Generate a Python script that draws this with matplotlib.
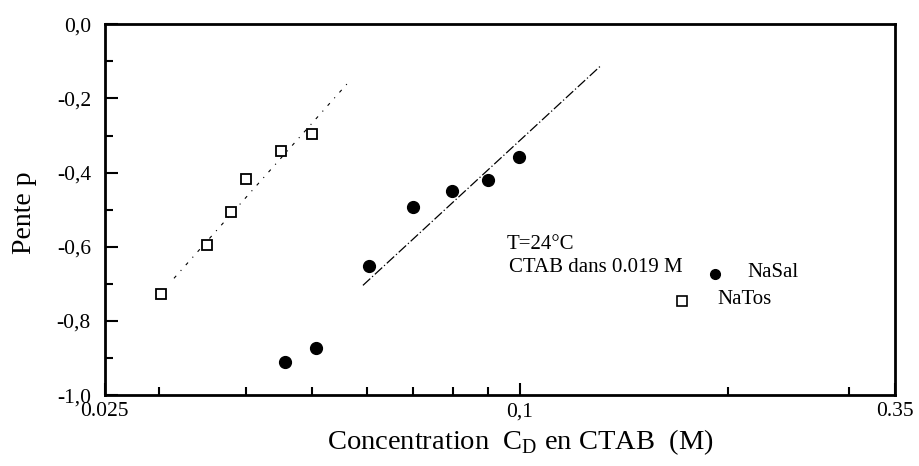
import matplotlib.pyplot as plt
import numpy as np

plt.rcParams['font.family'] = ['Liberation Serif', 'DejaVu Serif']
plt.rcParams['mathtext.fontset'] = 'custom'
plt.rcParams['mathtext.rm'] = 'Liberation Serif'

# NaSal (filled circles)
nasal_x = [0.0456, 0.0506, 0.0604, 0.070, 0.0798, 0.090, 0.0998]
nasal_y = [-0.911, -0.874, -0.653, -0.492, -0.449, -0.419, -0.357]

# NaTos (open squares)
natos_x = [0.0302, 0.0352, 0.0381, 0.040, 0.045, 0.050]
natos_y = [-0.728, -0.595, -0.505, -0.417, -0.341, -0.296]

# fitted lines, end points
fit_nasal_x = [0.0592, 0.1308]
fit_nasal_y = [-0.704, -0.113]
fit_natos_x = [0.0315, 0.0565]
fit_natos_y = [-0.685, -0.155]

xticks = [0.025, 0.1, 0.35]
xticklabels = ['0.025', '0,1', '0.35']
yticks = [-1.0, -0.8, -0.6, -0.4, -0.2, 0.0]
yticklabels = ['-1,0', '-0,8', '-0,6', '-0,4', '-0,2', '0,0']

fig = plt.figure(figsize=(9.19, 4.66), dpi=100)
ax = fig.add_axes([0.114, 0.152, 0.860, 0.796])

ax.plot(fit_natos_x, fit_natos_y, color='black', lw=0.8, linestyle=(0, (3, 6, 1, 6)))
ax.plot(fit_nasal_x, fit_nasal_y, color='black', lw=0.9, linestyle=(0, (8, 2, 1, 2)))

ax.plot(natos_x, natos_y, 's', ms=7.5, mfc='white', mec='black', mew=1.3, ls='none')
ax.plot(nasal_x, nasal_y, 'o', ms=8.5, mfc='black', mec='black', ls='none')

ax.set_xscale('log')
ax.set_xlim(0.025, 0.35)
ax.set_ylim(-1.0, 0.0)
ax.set_xticks(xticks)
ax.set_xticklabels(xticklabels)
ax.set_xticks([0.03, 0.04, 0.05, 0.06, 0.07, 0.08, 0.09, 0.2, 0.3], minor=True)
ax.xaxis.set_minor_formatter(plt.NullFormatter())
ax.set_yticks(yticks)
ax.set_yticklabels(yticklabels)
ax.set_yticks(np.arange(-0.9, 0.0, 0.2), minor=True)

ax.tick_params(which='both', direction='in', labelsize=15.5, width=1.5)
ax.tick_params(axis='y', which='major', length=9, pad=10)
ax.tick_params(axis='x', which='major', length=9, pad=5)
ax.tick_params(which='minor', length=6)
for s in ax.spines.values():
    s.set_linewidth(2)

# annotation / legend
ax.text(0.509, 0.407, 'T=24°C', transform=ax.transAxes, fontsize=15, va='center', ha='left')
ax.text(0.512, 0.345, 'CTAB dans 0.019 M', transform=ax.transAxes, fontsize=15, va='center', ha='left')
ax.plot([0.772], [0.326], 'o', ms=7, color='black', transform=ax.transAxes, clip_on=False)
ax.text(0.813, 0.332, 'NaSal', transform=ax.transAxes, fontsize=15, va='center', ha='left')
ax.plot([0.730], [0.253], 's', ms=7, mfc='white', mec='black', mew=1.2, transform=ax.transAxes, clip_on=False)
ax.text(0.775, 0.259, 'NaTos', transform=ax.transAxes, fontsize=15, va='center', ha='left')

fig.text(0.566, 0.052, r'Concentration  C$_\mathrm{D}$ en CTAB  (M)', fontsize=20.5, ha='center', va='center')
fig.text(0.027, 0.543, 'Pente p', fontsize=20, rotation=90, ha='center', va='center')

fig.savefig('out.png', dpi=100)
